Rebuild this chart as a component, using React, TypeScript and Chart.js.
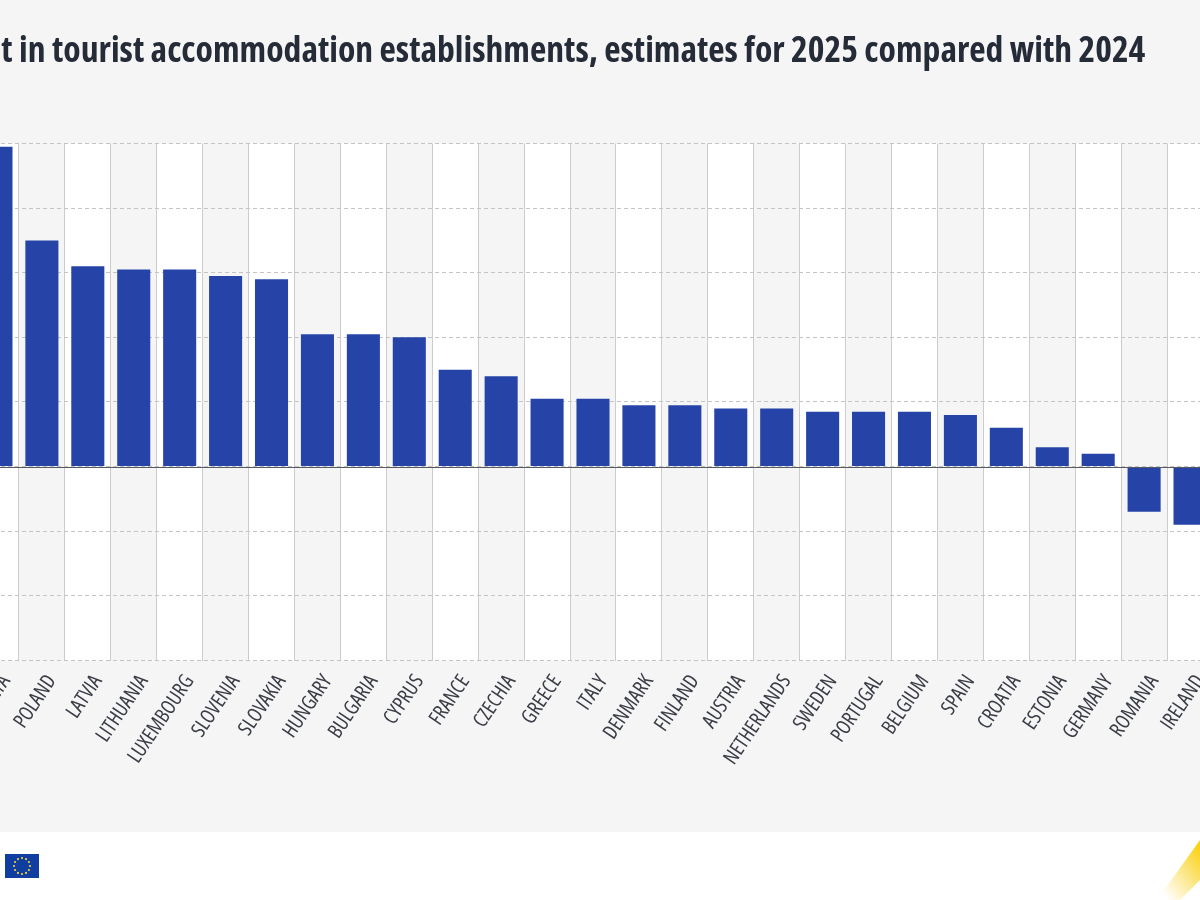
import React, { useEffect, useRef } from "react";
import { Chart, registerables } from "chart.js";

Chart.register(...registerables);

const categories = ["MALTA", "POLAND", "LATVIA", "LITHUANIA", "LUXEMBOURG", "SLOVENIA", "SLOVAKIA", "HUNGARY", "BULGARIA", "CYPRUS", "FRANCE", "CZECHIA", "GREECE", "ITALY", "DENMARK", "FINLAND", "AUSTRIA", "NETHERLANDS", "SWEDEN", "PORTUGAL", "BELGIUM", "SPAIN", "CROATIA", "ESTONIA", "GERMANY", "ROMANIA", "IRELAND"];
const growth = [9.9, 7.0, 6.2, 6.1, 6.1, 5.9, 5.8, 4.1, 4.1, 4.0, 3.0, 2.8, 2.1, 2.1, 1.9, 1.9, 1.8, 1.8, 1.7, 1.7, 1.7, 1.6, 1.2, 0.6, 0.4, -1.4, -1.8];
const titleText = "Nights spent in tourist accommodation establishments, estimates for 2025 compared with 2024";

const FONT = "'Open Sans', sans-serif";
const CANVAS_LEFT = -160;
const PLOT_LEFT = -27;
const PLOT_RIGHT = 1213.4;

const bandsPlugin = {
  id: "bands",
  beforeDraw(chart: any) {
    const { ctx, chartArea, scales } = chart;
    const x = scales.x;
    const half = (x.getPixelForValue(1) - x.getPixelForValue(0)) / 2;
    ctx.save();
    categories.forEach((_, i) => {
      const c = x.getPixelForValue(i);
      ctx.fillStyle = i % 2 === 1 ? "#f5f5f6" : "#ffffff";
      ctx.fillRect(c - half, chartArea.top, half * 2, chartArea.bottom - chartArea.top);
    });
    ctx.restore();
  },
};

const zeroLinePlugin = {
  id: "zeroLine",
  afterDatasetsDraw(chart: any) {
    const { ctx, chartArea, scales } = chart;
    const y = Math.round(scales.y.getPixelForValue(0)) + 0.5;
    ctx.save();
    ctx.strokeStyle = "#555a63";
    ctx.lineWidth = 1;
    ctx.beginPath();
    ctx.moveTo(chartArea.left, y);
    ctx.lineTo(chartArea.right, y);
    ctx.stroke();
    ctx.restore();
  },
};

function EuFlag() {
  const stars = Array.from({ length: 12 }, (_, i) => i);
  return (
    <svg width="34" height="24" viewBox="0 0 34 24" style={{ position: "absolute", left: 5, top: 854 }}>
      <rect width="34" height="24" fill="#0f3ea0" />
      {stars.map((i) => (
        <circle
          key={i}
          cx={17 + 8 * Math.cos((i * Math.PI) / 6)}
          cy={12 + 8 * Math.sin((i * Math.PI) / 6)}
          r="1.1"
          fill="#f4d23c"
        />
      ))}
    </svg>
  );
}

function Corner() {
  return (
    <svg width="60" height="70" viewBox="0 0 60 70" style={{ position: "absolute", left: 1140, top: 830 }}>
      <defs>
        <linearGradient id="cornerGrad" x1="1" y1="0.15" x2="0.25" y2="1">
          <stop offset="0" stopColor="#fcd116" />
          <stop offset="0.45" stopColor="#fbe684" />
          <stop offset="1" stopColor="#ffffff" />
        </linearGradient>
      </defs>
      <polygon points="60,10 17,70 40,70 60,50" fill="url(#cornerGrad)" />
    </svg>
  );
}

export default function App() {
  const ref = useRef<HTMLCanvasElement>(null);
  useEffect(() => {
    document.body.style.margin = "0";
    document.body.style.background = "#ffffff";
    document.body.style.overflow = "hidden";
    const chart = new Chart(ref.current!, {
      type: "bar",
      data: {
        labels: categories,
        datasets: [
          {
            data: growth,
            backgroundColor: "#2644a7",
            barPercentage: 0.72,
            categoryPercentage: 1,
          },
        ],
      },
      plugins: [bandsPlugin, zeroLinePlugin],
      options: {
        responsive: false,
        animation: false,
        devicePixelRatio: 1,
        layout: { padding: 0 },
        plugins: {
          legend: { display: false },
          tooltip: { enabled: false },
          title: {
            display: true,
            text: titleText,
            align: "start",
            color: "#262b38",
            font: { family: FONT, size: 35.65, weight: "condensed bold" },
            padding: { top: 30, bottom: 70.7 },
          },
        },
        scales: {
          x: {
            type: "category",
            offset: true,
            grid: { display: true, offset: true, color: "#cccccc", lineWidth: 1, drawTicks: false },
            border: { display: false },
            ticks: {
              autoSkip: false,
              minRotation: 56,
              maxRotation: 56,
              labelOffset: 10,
              padding: 10,
              color: "#3a3d45",
              font: { family: FONT, size: 20.5, weight: "condensed" },
            },
            afterFit(s: any) {
              s.height = 171.5;
              s.paddingLeft = 0;
              s.paddingRight = 0;
            },
          },
          y: {
            min: -6,
            max: 10,
            ticks: { stepSize: 2, display: false },
            grid: { color: "#c4c4c4", lineWidth: 1, drawTicks: false },
            border: { display: false, dash: [4, 3] },
            afterFit(s: any) {
              s.width = PLOT_LEFT - CANVAS_LEFT;
            },
          },
        },
      },
    } as any);
    return () => chart.destroy();
  }, []);

  return (
    <div style={{ position: "relative", width: 1200, height: 900, overflow: "hidden", background: "#ffffff" }}>
      <div style={{ position: "absolute", left: 0, top: 0, width: 1200, height: 832, background: "#f5f5f6", overflow: "hidden" }}>
        <canvas
          ref={ref}
          width={PLOT_RIGHT - CANVAS_LEFT}
          height={832}
          style={{ position: "absolute", left: CANVAS_LEFT, top: 0 }}
        />
      </div>
      <EuFlag />
      <Corner />
    </div>
  );
}
